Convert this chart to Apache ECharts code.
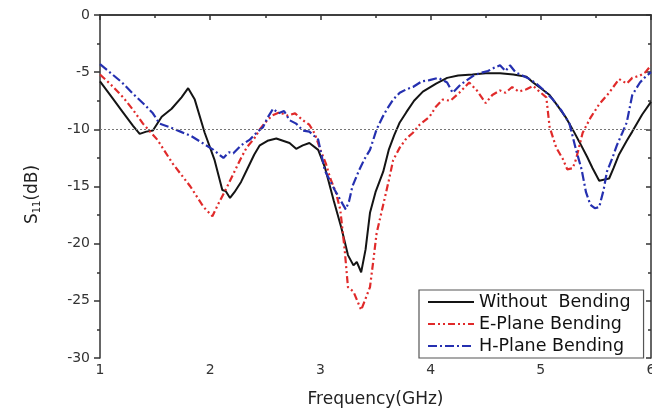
<!DOCTYPE html>
<html><head><meta charset="utf-8">
<script src="https://cdn.jsdelivr.net/npm/echarts@6/dist/echarts.min.js"></script>
<style>html,body{margin:0;padding:0;background:#fff}#c{width:652px;height:417px}</style>
</head><body><div id="c"></div>
<script>
var xTicks = [1, 2, 3, 4, 5, 6];
var yTicks = [0, -5, -10, -15, -20, -25, -30];
var refLevel = -10;
var seriesNames = ['Without  Bending', 'E-Plane Bending', 'H-Plane Bending'];
var withoutBending = [[1.00,-5.8],[1.1,-7.1],[1.2,-8.4],[1.3,-9.7],[1.36,-10.4],[1.42,-10.2],[1.48,-10.1],[1.56,-8.9],[1.65,-8.2],[1.74,-7.2],[1.8,-6.4],[1.86,-7.4],[1.95,-10.3],[2.04,-12.7],[2.11,-15.3],[2.14,-15.4],[2.18,-16.0],[2.22,-15.5],[2.28,-14.6],[2.33,-13.6],[2.4,-12.2],[2.45,-11.4],[2.52,-11.0],[2.6,-10.8],[2.66,-11.0],[2.72,-11.2],[2.78,-11.7],[2.84,-11.4],[2.9,-11.2],[2.98,-11.8],[3.04,-13.3],[3.12,-16.2],[3.19,-18.6],[3.25,-21.0],[3.3,-21.9],[3.33,-21.6],[3.37,-22.5],[3.41,-20.5],[3.45,-17.3],[3.5,-15.5],[3.57,-13.7],[3.62,-11.8],[3.67,-10.5],[3.72,-9.4],[3.78,-8.5],[3.85,-7.5],[3.93,-6.7],[4.05,-6.0],[4.15,-5.5],[4.25,-5.3],[4.38,-5.2],[4.5,-5.1],[4.63,-5.1],[4.75,-5.2],[4.87,-5.4],[4.93,-5.9],[5.0,-6.4],[5.08,-7.0],[5.15,-7.9],[5.23,-9.0],[5.3,-10.2],[5.35,-11.1],[5.42,-12.4],[5.47,-13.4],[5.53,-14.5],[5.62,-14.3],[5.66,-13.4],[5.71,-12.2],[5.78,-11.0],[5.83,-10.2],[5.92,-8.7],[6.0,-7.6]];
var ePlaneBending = [[1.0,-5.2],[1.1,-6.1],[1.21,-7.2],[1.3,-8.3],[1.39,-9.5],[1.52,-10.9],[1.66,-13.0],[1.82,-15.0],[1.94,-16.8],[2.02,-17.6],[2.08,-16.4],[2.15,-15.1],[2.21,-13.9],[2.27,-12.7],[2.33,-11.6],[2.4,-10.8],[2.45,-10.0],[2.5,-9.4],[2.56,-8.8],[2.63,-8.5],[2.7,-8.8],[2.77,-8.6],[2.84,-9.2],[2.9,-9.6],[2.95,-10.4],[3.0,-11.8],[3.05,-13.0],[3.09,-14.3],[3.14,-15.5],[3.18,-17.0],[3.22,-20.5],[3.25,-23.8],[3.3,-24.2],[3.37,-25.8],[3.41,-24.8],[3.45,-23.8],[3.48,-21.5],[3.51,-19.1],[3.57,-16.6],[3.62,-14.5],[3.66,-12.7],[3.72,-11.6],[3.78,-10.8],[3.84,-10.3],[3.9,-9.6],[3.99,-8.9],[4.05,-8.0],[4.11,-7.4],[4.18,-7.5],[4.26,-6.8],[4.3,-6.4],[4.35,-5.9],[4.42,-6.6],[4.5,-7.7],[4.56,-7.0],[4.63,-6.6],[4.68,-6.8],[4.74,-6.3],[4.8,-6.7],[4.87,-6.5],[4.93,-6.2],[5.0,-6.8],[5.05,-7.2],[5.08,-9.8],[5.14,-11.6],[5.2,-12.6],[5.24,-13.5],[5.29,-13.4],[5.32,-12.6],[5.38,-10.3],[5.45,-9.0],[5.53,-7.8],[5.62,-6.8],[5.71,-5.6],[5.78,-6.0],[5.83,-5.5],[5.9,-5.3],[5.95,-5.0],[6.0,-4.4]];
var hPlaneBending = [[1.0,-4.3],[1.1,-5.1],[1.2,-5.9],[1.3,-6.9],[1.4,-7.8],[1.48,-8.6],[1.54,-9.5],[1.63,-9.8],[1.73,-10.2],[1.83,-10.6],[1.93,-11.2],[2.03,-11.8],[2.12,-12.5],[2.17,-12.0],[2.21,-12.1],[2.28,-11.4],[2.36,-10.9],[2.42,-10.3],[2.48,-9.8],[2.52,-9.0],[2.57,-8.2],[2.62,-8.6],[2.67,-8.4],[2.72,-9.2],[2.78,-9.5],[2.84,-10.1],[2.9,-10.2],[2.98,-10.9],[3.04,-13.6],[3.13,-15.3],[3.2,-16.5],[3.23,-17.0],[3.26,-16.3],[3.29,-15.0],[3.35,-13.6],[3.4,-12.6],[3.45,-11.8],[3.51,-10.0],[3.56,-9.0],[3.6,-8.3],[3.66,-7.4],[3.72,-6.8],[3.78,-6.5],[3.84,-6.3],[3.92,-5.8],[3.99,-5.7],[4.07,-5.5],[4.15,-5.9],[4.2,-6.8],[4.27,-6.1],[4.33,-5.7],[4.39,-5.3],[4.44,-5.1],[4.52,-4.9],[4.58,-4.6],[4.63,-4.4],[4.68,-4.9],[4.72,-4.4],[4.77,-5.0],[4.81,-5.2],[4.88,-5.5],[4.96,-6.0],[5.03,-6.6],[5.11,-7.4],[5.19,-8.4],[5.26,-9.5],[5.32,-11.8],[5.37,-13.5],[5.41,-15.5],[5.45,-16.6],[5.49,-16.9],[5.53,-16.8],[5.57,-15.3],[5.6,-13.7],[5.65,-12.5],[5.69,-11.4],[5.74,-10.3],[5.78,-9.4],[5.83,-7.0],[5.9,-5.9],[5.95,-5.4],[6.0,-5.0]];

var FONT = 'DejaVu Sans, sans-serif';
var axisLineStyle = {color: '#333', width: 1.5};
var tickStyle = {color: '#333', width: 1.5};
var chart = echarts.init(document.getElementById('c'), null, {renderer: 'canvas'});
function lineSeries(name, data, color, type, width) {
  return {name: name, type: 'line', data: data, symbol: 'none', showSymbol: false, smooth: false,
    lineStyle: {color: color, width: width, type: type}, itemStyle: {color: color}, z: 3};
}
var s0 = lineSeries(seriesNames[0], withoutBending, '#141414', 'solid', 2);
var s1 = lineSeries(seriesNames[1], ePlaneBending, '#e02a2a', [7, 3, 2, 3, 2, 3], 2.2);
var s2 = lineSeries(seriesNames[2], hPlaneBending, '#2530b0', [9, 3, 2, 3], 2.2);
s0.markLine = {silent: true, symbol: 'none', label: {show: false},
  lineStyle: {color: '#777', type: [2, 2], width: 1}, data: [{yAxis: refLevel}]};
chart.setOption({
  animation: false,
  backgroundColor: '#fff',
  grid: {left: 100, right: 1, top: 15, bottom: 59, containLabel: false, outerBoundsMode: 'none'},
  legend: {
    orient: 'vertical', left: 419, top: 290,
    backgroundColor: '#fff', borderColor: '#555', borderWidth: 1.2,
    padding: [3, 13, 3, 8], itemWidth: 46, itemHeight: 14, itemGap: 4,
    itemStyle: {opacity: 0},
    textStyle: {fontFamily: FONT, fontSize: 17.5, color: '#111'},
    data: seriesNames
  },
  xAxis: [{
    type: 'value', min: xTicks[0], max: xTicks[xTicks.length - 1], interval: 1,
    position: 'bottom',
    name: 'Frequency(GHz)', nameLocation: 'middle', nameGap: 33,
    nameTextStyle: {fontFamily: FONT, fontSize: 17, color: '#222'},
    axisLine: {lineStyle: axisLineStyle},
    axisTick: {show: true, inside: false, length: 5, lineStyle: tickStyle},
    minorTick: {show: true, splitNumber: 2, length: 3, lineStyle: tickStyle},
    axisLabel: {fontFamily: FONT, fontSize: 14, color: '#333', margin: 5},
    splitLine: {show: false}
  }, {
    type: 'value', min: xTicks[0], max: xTicks[xTicks.length - 1], interval: 1,
    position: 'top',
    axisLine: {lineStyle: axisLineStyle},
    axisTick: {show: true, inside: true, length: 5, lineStyle: tickStyle},
    minorTick: {show: true, splitNumber: 2, length: 3, lineStyle: tickStyle},
    axisLabel: {show: false}, splitLine: {show: false}
  }],
  yAxis: [{
    type: 'value', min: yTicks[yTicks.length - 1], max: yTicks[0], interval: 5,
    position: 'left',
    name: 'S{sub|11}(dB)', nameLocation: 'middle', nameGap: 58, nameRotate: 90,
    nameTextStyle: {fontFamily: FONT, fontSize: 17, color: '#222', padding: [0, 16, 0, 0],
      rich: {sub: {fontFamily: FONT, fontSize: 10, color: '#222', verticalAlign: 'bottom', padding: [8, 0, 0, 0]}}},
    axisLine: {lineStyle: axisLineStyle},
    axisTick: {show: true, inside: false, length: 6, lineStyle: tickStyle},
    minorTick: {show: true, splitNumber: 2, length: 3, lineStyle: tickStyle},
    axisLabel: {fontFamily: FONT, fontSize: 14, color: '#333', margin: 10},
    splitLine: {show: false}
  }, {
    type: 'value', min: yTicks[yTicks.length - 1], max: yTicks[0], interval: 5,
    position: 'right',
    axisLine: {lineStyle: axisLineStyle},
    axisTick: {show: true, inside: true, length: 5, lineStyle: tickStyle},
    minorTick: {show: true, splitNumber: 2, length: 3, lineStyle: tickStyle},
    axisLabel: {show: false}, splitLine: {show: false}
  }],
  series: [s0, s1, s2]
});
</script></body></html>
